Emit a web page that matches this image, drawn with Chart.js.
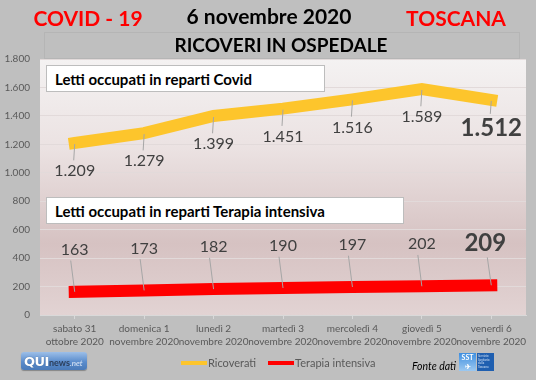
<!DOCTYPE html>
<html>
<head>
<meta charset="utf-8">
<script src="https://cdn.jsdelivr.net/npm/chart.js@4.4.1/dist/chart.umd.min.js"></script>
<style>
  html,body{margin:0;padding:0;}
  body{width:536px;height:380px;background:#bfbfbf;position:relative;overflow:hidden;font-family:Lato,"Open Sans",sans-serif;}
  #c{position:absolute;left:0;top:0;}
  .t{position:absolute;transform:translate(-50%,-50%);white-space:nowrap;font-weight:bold;line-height:1;}
  .box{position:absolute;background:#fff;border:1px solid #bdbdbd;box-sizing:border-box;font-weight:bold;color:#000;font-size:15px;padding-left:8px;display:flex;align-items:center;white-space:nowrap;}
  #titlebox{position:absolute;left:44px;top:32px;width:476px;height:27px;border:1px solid rgba(0,0,0,0.05);box-sizing:border-box;}
  #legend{position:absolute;top:356px;left:181px;display:flex;align-items:center;font-size:11px;color:#595959;}
  #legend .it{display:flex;align-items:center;margin-right:12px;}
  #legend .sw{width:26px;height:4px;margin-right:1px;}
  #qui{position:absolute;left:21px;top:352px;width:66px;height:18px;border-radius:3px;background:linear-gradient(#9dbfe8,#5a8ccc 55%,#4a7ab8);box-shadow:0 1px 1px rgba(0,0,0,0.3);display:flex;align-items:center;padding-left:3px;box-sizing:border-box;}
  #qui .q{color:#fff;font-weight:900;font-size:13px;font-family:"DejaVu Sans",sans-serif;letter-spacing:-0.5px;text-shadow:0 0 1px #2a4f80;}
  #qui .n{color:#2c3e5a;font-weight:bold;font-size:9px;margin-top:3px;}
  #qui .d{color:#dfe9f7;font-style:italic;font-size:8px;margin-top:3px;}
  #fonte{position:absolute;left:412px;top:360px;font-size:10.5px;font-style:italic;color:#000;}
  #sst{position:absolute;left:459px;top:353px;width:35px;height:18px;display:flex;}
  #sst .a{width:17px;height:18px;background:linear-gradient(#3f8fe0,#9cc8f0);color:#fff;font-size:7px;font-weight:bold;text-align:center;line-height:9px;}
  #sst .b{width:17px;height:18px;margin-left:1px;background:#1f5fb0;color:#cfe0f5;font-size:3px;line-height:3.5px;padding:2px 1px;box-sizing:border-box;}
</style>
</head>
<body>
<canvas id="c" width="536" height="380"></canvas>
<div id="titlebox"></div>
<div class="t" style="left:88px;top:17px;color:#ff0000;font-size:21px;">COVID - 19</div>
<div class="t" style="left:269px;top:15px;color:#000;font-size:21px;">6 novembre 2020</div>
<div class="t" style="left:456px;top:17px;color:#ff0000;font-size:21px;">TOSCANA</div>
<div class="t" style="left:281px;top:44px;color:#000;font-size:19px;">RICOVERI IN OSPEDALE</div>
<div class="box" style="left:46px;top:65px;width:279px;height:27px;">Letti occupati in reparti Covid</div>
<div class="box" style="left:46px;top:197px;width:358px;height:27px;">Letti occupati in reparti Terapia intensiva</div>
<div id="legend"></div>
<div id="qui"><span class="q">QUI</span><span class="n">news</span><span class="d">.net</span></div>
<div id="fonte">Fonte dati</div>
<div id="sst"><div class="a">SST<br>✈</div><div class="b">Servizio Sanitario della Toscana</div></div>
<script>
const categories = [
  ["sabato 31","ottobre 2020"],
  ["domenica 1","novembre 2020"],
  ["lunedì 2","novembre 2020"],
  ["martedì 3","novembre 2020"],
  ["mercoledì 4","novembre 2020"],
  ["giovedì 5","novembre 2020"],
  ["venerdi 6","novembre 2020"]
];
const ricoverati = [1209, 1279, 1399, 1451, 1516, 1589, 1512];
const terapiaIntensiva = [163, 173, 182, 190, 197, 202, 209];
const yTicks = [0, 200, 400, 600, 800, 1000, 1200, 1400, 1600, 1800];

const fmtDot = v => String(v).replace(/\B(?=(\d{3})+(?!\d))/g, '.');

const bgPlugin = {
  id: 'plotBg',
  beforeDraw(chart) {
    const {ctx, chartArea: a} = chart;
    const g = ctx.createLinearGradient(0, a.top, 0, a.bottom);
    g.addColorStop(0, '#f4f2f2');
    g.addColorStop(0.35, '#ebe2e2');
    g.addColorStop(0.72, '#d6c2c2');
    g.addColorStop(1, '#e2d3d3');
    ctx.save();
    ctx.fillStyle = g;
    ctx.fillRect(a.left, a.top, a.right - a.left, a.bottom - a.top);
    ctx.restore();
  }
};

const labelPlugin = {
  id: 'dataLabels',
  afterDatasetsDraw(chart, args, opts) {
    const ctx = chart.ctx;
    chart.data.datasets.forEach((ds, di) => {
      const meta = chart.getDatasetMeta(di);
      const o = opts.sets[di];
      meta.data.forEach((pt, i) => {
        const last = i === meta.data.length - 1;
        const size = last ? o.lastSize : o.size;
        const cy = pt.y + o.offset;
        const half = size * 0.42;
        ctx.save();
        ctx.strokeStyle = '#a6a6a6';
        ctx.lineWidth = 1;
        ctx.beginPath();
        if (o.offset > 0) {
          ctx.moveTo(pt.x, pt.y + 1);
          ctx.lineTo(pt.x - 1, cy - half - 4);
        } else {
          ctx.moveTo(pt.x, pt.y);
          ctx.lineTo(pt.x - 4, cy + half + 4);
        }
        ctx.stroke();
        ctx.fillStyle = '#404040';
        ctx.font = (last ? 'bold ' : '') + size + 'px Lato, sans-serif';
        ctx.textAlign = 'center';
        ctx.textBaseline = 'middle';
        ctx.fillText(fmtDot(ds.data[i]), pt.x + (last && o.offset < 0 ? -6 : 0), cy);
        ctx.restore();
      });
    });
  }
};

const chart = new Chart(document.getElementById('c'), {
  type: 'line',
  data: {
    labels: categories,
    datasets: [
      {label: 'Ricoverati', data: ricoverati, borderColor: '#fdc52c', backgroundColor: '#fdc52c',
       borderWidth: 12, pointRadius: 0, tension: 0, borderCapStyle: 'square', borderJoinStyle: 'miter'},
      {label: 'Terapia intensiva', data: terapiaIntensiva, borderColor: '#ff0000', backgroundColor: '#ff0000',
       borderWidth: 12, pointRadius: 0, tension: 0, borderCapStyle: 'square', borderJoinStyle: 'miter'}
    ]
  },
  options: {
    responsive: false,
    devicePixelRatio: 1,
    animation: false,
    layout: {padding: {left: 0, right: 10, top: 59, bottom: 0}},
    plugins: {
      legend: {display: false},
      title: {display: false},
      tooltip: {enabled: false},
      dataLabels: {sets: [
        {offset: 28, size: 16, lastSize: 24},
        {offset: -42, size: 16, lastSize: 24}
      ]}
    },
    scales: {
      x: {
        offset: true,
        grid: {display: true, drawOnChartArea: false, tickLength: 4, color: '#d9d9d9'},
        border: {color: '#d9d9d9'},
        ticks: {color: '#595959', font: {size: 10, family: 'Lato', lineHeight: 1.3}, padding: 3, maxRotation: 0, autoSkip: false},
        afterFit(s) { s.height = 65; }
      },
      y: {
        min: 0, max: 1800,
        afterBuildTicks(s) { s.ticks = yTicks.map(v => ({value: v})); },
        grid: {color: '#e2dada', drawTicks: false},
        border: {display: false},
        ticks: {color: '#595959', font: {size: 10, family: 'Lato'}, padding: 10, callback: v => fmtDot(v)},
        afterFit(s) { s.width = 40; }
      }
    }
  },
  plugins: [bgPlugin, labelPlugin]
});

const leg = document.getElementById('legend');
chart.data.datasets.forEach(ds => {
  const it = document.createElement('div'); it.className = 'it';
  const sw = document.createElement('div'); sw.className = 'sw'; sw.style.background = ds.borderColor;
  const tx = document.createElement('span'); tx.textContent = ds.label;
  it.appendChild(sw); it.appendChild(tx); leg.appendChild(it);
});
</script>
</body>
</html>
